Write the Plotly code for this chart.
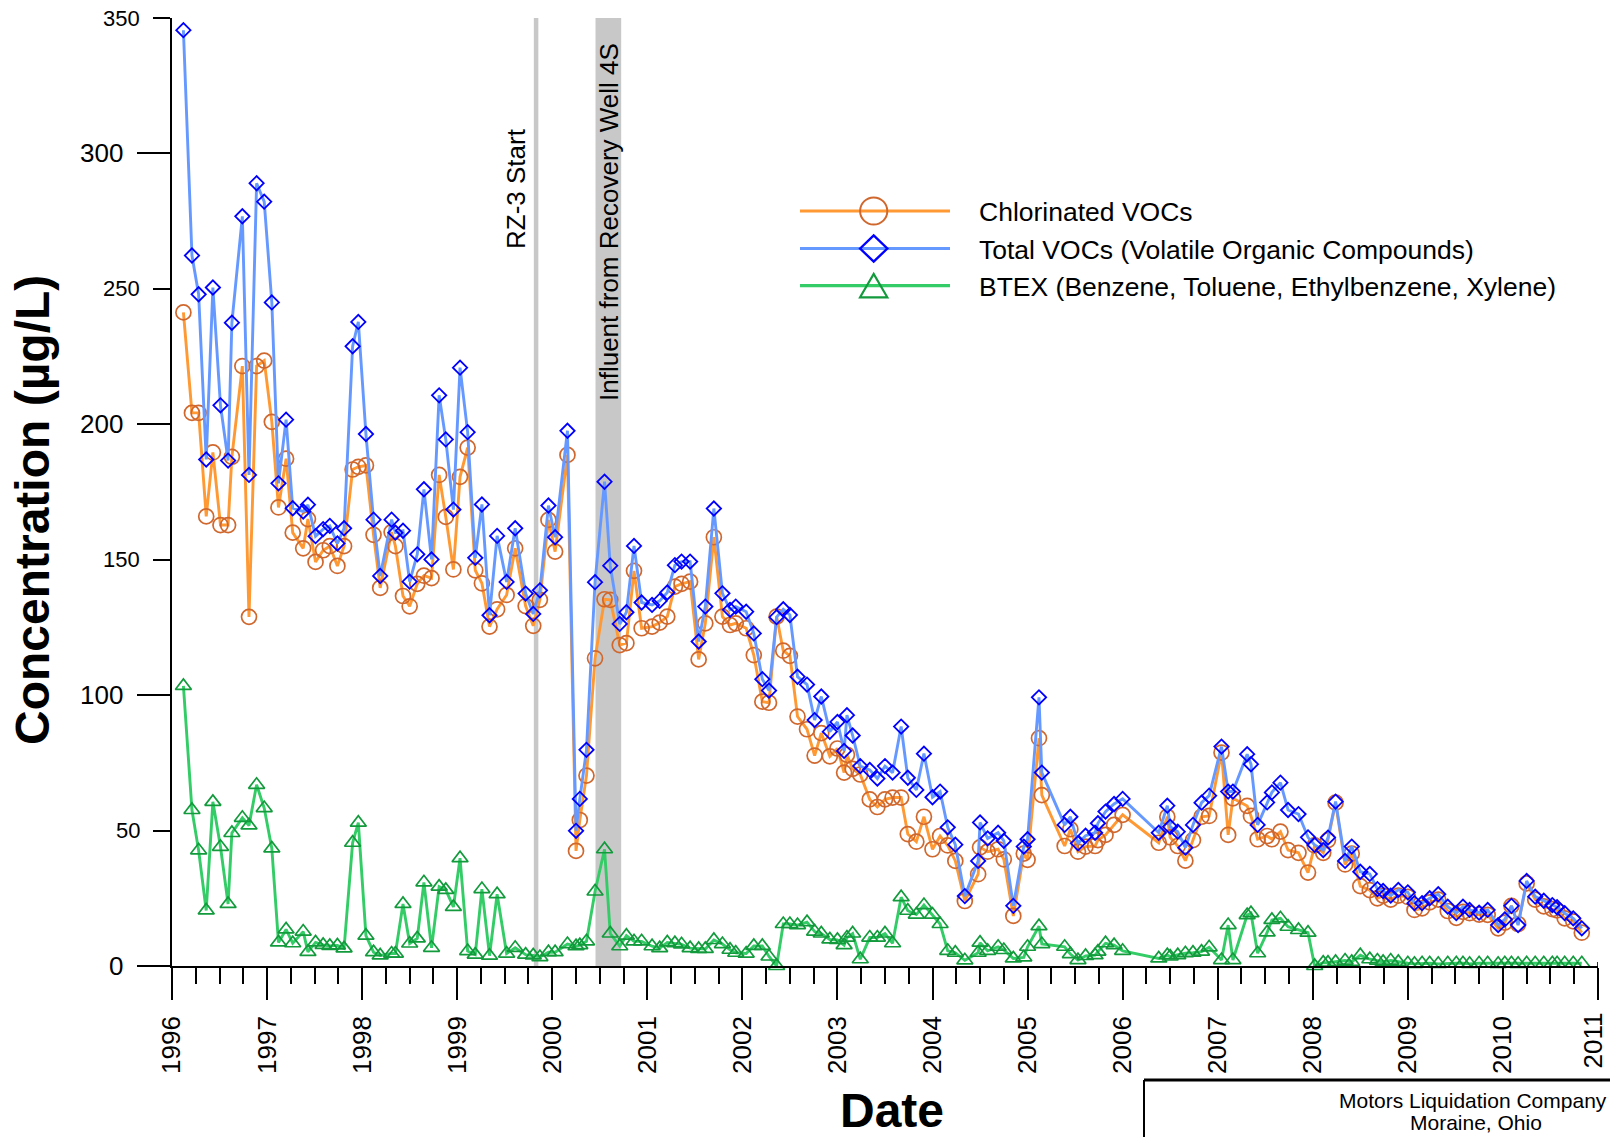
import plotly.graph_objects as go

# ---------------------------------------------------------------------------
# Sampling record (decimal years) and concentrations in µg/L
# ---------------------------------------------------------------------------
sample_year = [
    1996.12, 1996.21, 1996.28, 1996.36, 1996.43, 1996.51, 1996.59, 1996.63, 1996.74, 1996.81,
    1996.89, 1996.97, 1997.05, 1997.12, 1997.20, 1997.27, 1997.38, 1997.43, 1997.51, 1997.59,
    1997.66, 1997.74, 1997.81, 1997.90, 1997.96, 1998.04, 1998.12, 1998.19, 1998.31, 1998.35,
    1998.43, 1998.50, 1998.58, 1998.65, 1998.73, 1998.81, 1998.88, 1998.96, 1999.03, 1999.11,
    1999.19, 1999.26, 1999.34, 1999.42, 1999.52, 1999.61, 1999.72, 1999.80, 1999.87, 1999.96,
    2000.03, 2000.16, 2000.25, 2000.29, 2000.36, 2000.45, 2000.55, 2000.61, 2000.71, 2000.78,
    2000.86, 2000.94, 2001.05, 2001.13, 2001.21, 2001.29, 2001.36, 2001.45, 2001.54, 2001.61,
    2001.70, 2001.79, 2001.87, 2001.93, 2002.04, 2002.12, 2002.21, 2002.28, 2002.36, 2002.43,
    2002.50, 2002.58, 2002.68, 2002.76, 2002.83, 2002.92, 2003.00, 2003.07, 2003.10, 2003.16,
    2003.24, 2003.34, 2003.42, 2003.50, 2003.58, 2003.67, 2003.74, 2003.83, 2003.91, 2004.00,
    2004.08, 2004.16, 2004.24, 2004.34, 2004.48, 2004.50, 2004.58, 2004.69, 2004.75, 2004.85,
    2004.96, 2005.00, 2005.12, 2005.15, 2005.39, 2005.45, 2005.53, 2005.61, 2005.71, 2005.74,
    2005.82, 2005.91, 2006.00, 2006.38, 2006.47, 2006.50, 2006.58, 2006.66, 2006.74, 2006.83,
    2006.91, 2007.04, 2007.11, 2007.16, 2007.31, 2007.35, 2007.42, 2007.52, 2007.57, 2007.66,
    2007.74, 2007.85, 2007.95, 2008.02, 2008.11, 2008.16, 2008.24, 2008.34, 2008.41, 2008.50,
    2008.60, 2008.68, 2008.74, 2008.82, 2008.90, 2009.00, 2009.07, 2009.15, 2009.23, 2009.32,
    2009.42, 2009.51, 2009.58, 2009.65, 2009.75, 2009.84, 2009.95, 2010.02, 2010.09, 2010.16,
    2010.25, 2010.34, 2010.43, 2010.52, 2010.57, 2010.65, 2010.74, 2010.83,
]

total_vocs = [
    345.5, 262.3, 248.0, 187.0, 250.5, 207.0, 186.6, 237.5, 276.8, 181.3,
    289.0, 282.2, 245.0, 178.2, 201.7, 169.0, 167.8, 170.3, 158.7, 161.3,
    162.5, 156.0, 161.6, 228.8, 237.8, 196.4, 164.8, 144.0, 164.8, 160.0,
    160.7, 141.9, 152.0, 176.0, 150.1, 210.7, 194.4, 168.5, 220.9, 197.1,
    150.7, 170.4, 129.5, 158.8, 141.8, 161.6, 137.5, 130.0, 138.7, 170.0,
    158.3, 197.6, 49.9, 61.7, 79.8, 141.7, 178.8, 147.8, 126.3, 130.6,
    155.1, 134.2, 133.3, 134.8, 137.9, 148.0, 149.3, 149.3, 119.8, 132.7,
    168.9, 137.6, 131.5, 132.7, 130.8, 122.8, 105.9, 101.7, 128.8, 131.7,
    129.6, 106.8, 103.9, 90.8, 99.5, 86.5, 90.1, 79.4, 92.6, 85.1,
    73.8, 72.4, 69.2, 73.8, 71.4, 88.4, 69.5, 65.0, 78.4, 62.3,
    64.4, 51.2, 44.8, 25.8, 38.8, 53.0, 47.1, 49.2, 46.2, 22.2,
    44.1, 46.8, 99.2, 71.4, 52.1, 55.1, 45.3, 48.1, 49.2, 52.7,
    57.0, 59.8, 61.7, 49.2, 59.2, 51.4, 49.6, 43.7, 52.1, 60.3,
    62.9, 81.0, 64.4, 64.4, 78.2, 74.5, 52.1, 60.4, 64.1, 67.7,
    57.6, 56.1, 47.5, 44.7, 42.8, 47.4, 60.7, 38.8, 44.1, 34.8,
    34.0, 28.4, 27.7, 26.0, 28.1, 27.2, 23.2, 23.2, 25.0, 26.5,
    21.9, 19.5, 21.9, 20.7, 19.7, 20.7, 15.1, 17.2, 22.2, 15.1,
    31.4, 25.6, 24.1, 22.5, 21.7, 19.5, 17.6, 13.9,
]

chlorinated_vocs = [
    241.3, 204.2, 204.2, 166.0, 189.6, 162.8, 162.8, 188.0, 221.5, 128.9,
    221.5, 223.5, 200.9, 169.3, 187.3, 160.0, 154.2, 165.0, 149.2, 153.5,
    155.0, 147.7, 155.0, 183.3, 184.3, 184.8, 159.2, 139.6, 160.2, 155.0,
    136.6, 132.8, 141.1, 144.1, 143.2, 181.3, 165.8, 146.4, 180.6, 191.4,
    146.1, 141.3, 125.3, 131.7, 137.0, 154.2, 132.9, 125.6, 135.2, 164.7,
    153.0, 188.7, 42.5, 53.9, 70.3, 113.6, 135.4, 135.2, 118.5, 119.2,
    145.9, 124.7, 125.3, 126.8, 129.0, 140.1, 141.1, 141.9, 113.2, 126.5,
    158.3, 129.0, 125.9, 126.5, 124.7, 114.8, 97.6, 97.2, 129.0, 116.4,
    114.5, 92.1, 87.4, 77.7, 86.0, 77.4, 80.3, 71.4, 78.0, 72.8,
    70.7, 61.5, 58.7, 61.5, 62.2, 62.2, 48.7, 45.9, 55.1, 43.1,
    48.0, 44.5, 38.8, 24.0, 33.9, 43.8, 42.2, 43.1, 39.4, 18.5,
    41.5, 39.2, 84.1, 63.1, 44.3, 50.5, 42.2, 44.1, 44.3, 46.5,
    48.4, 52.1, 55.8, 45.5, 55.1, 47.5, 44.3, 38.9, 46.5, 55.1,
    55.4, 78.8, 48.4, 61.9, 59.1, 55.4, 46.8, 48.0, 46.8, 49.6,
    42.8, 41.8, 34.5, 44.5, 41.8, 46.5, 60.3, 37.5, 41.5, 29.5,
    28.0, 25.0, 26.0, 24.5, 26.0, 25.5, 20.7, 21.3, 23.5, 24.5,
    20.3, 17.8, 20.0, 19.5, 19.0, 18.9, 13.9, 16.0, 22.2, 15.5,
    30.5, 24.5, 22.0, 21.0, 20.5, 17.6, 16.5, 12.3,
]

btex = [
    103.4, 57.6, 42.7, 20.5, 60.6, 44.0, 22.9, 49.1, 54.7, 51.9,
    66.9, 58.3, 43.4, 8.7, 13.5, 8.4, 12.7, 5.2, 8.7, 7.8,
    7.4, 7.6, 6.5, 45.5, 52.9, 11.2, 5.1, 3.9, 4.6, 4.6,
    22.9, 8.3, 10.2, 30.9, 6.7, 29.3, 28.1, 21.8, 39.8, 5.5,
    4.2, 28.4, 3.8, 26.5, 4.6, 6.7, 4.2, 3.9, 3.3, 5.1,
    5.1, 8.1, 7.3, 7.7, 9.1, 27.5, 43.1, 12.0, 7.3, 11.2,
    9.1, 9.1, 7.3, 6.6, 8.7, 8.4, 8.0, 6.6, 6.3, 6.3,
    9.6, 8.1, 6.0, 4.9, 4.6, 7.4, 7.4, 3.5, 0.0, 15.5,
    15.5, 15.1, 16.2, 12.7, 12.0, 9.8, 9.6, 7.7, 10.5, 12.0,
    2.5, 10.5, 10.5, 12.0, 8.4, 25.4, 20.4, 19.0, 22.5, 19.0,
    15.5, 5.6, 4.9, 2.1, 4.9, 8.6, 5.6, 7.1, 5.9, 2.8,
    3.2, 7.1, 14.7, 8.1, 7.1, 4.4, 2.2, 3.7, 4.0, 5.3,
    8.4, 7.7, 5.6, 2.8, 4.0, 3.5, 4.0, 4.7, 4.9, 5.3,
    6.9, 2.2, 15.1, 2.2, 18.8, 19.5, 4.7, 12.4, 17.0, 17.6,
    14.5, 13.3, 12.3, 0.0, 1.2, 1.2, 1.5, 2.0, 1.5, 4.0,
    2.5, 2.0, 1.5, 2.0, 1.5, 1.0, 0.8, 1.0, 1.0, 0.8,
    1.0, 1.0, 1.0, 0.8, 1.0, 1.0, 0.8, 1.0, 1.0, 0.8,
    1.0, 1.0, 1.0, 1.0, 1.0, 1.0, 1.0, 1.0,
]

series_names = [
    "Chlorinated VOCs",
    "Total VOCs (Volatile Organic Compounds)",
    "BTEX (Benzene, Toluene, Ethylbenzene, Xylene)",
]

# Remediation milestones
rz3_start = 1999.83
influent_period = (2000.455, 2000.725)

year_ticks = list(range(1996, 2012))
conc_major_ticks = [0, 100, 200, 300]
conc_minor_ticks = [50, 150, 250, 350]

# ---------------------------------------------------------------------------
# Page geometry (pixels) and helpers to place paper-anchored items
# ---------------------------------------------------------------------------
W, H = 1610, 1137
ML, MR, MT, MB = 172, 12, 18, 171
PW, PH = W - ML - MR, H - MT - MB
FONT = "Liberation Sans, Arial, Helvetica, sans-serif"


def px(x):
    return (x - ML) / PW


def py(y):
    return (H - MB - y) / PH


ORANGE_LINE, ORANGE_MARK = "#FF9933", "#D0682E"
BLUE_LINE, BLUE_MARK = "#6699FF", "#0000FF"
GREEN_LINE, GREEN_MARK = "#33CC66", "#129A3C"
GREY = "#C8C8C8"

fig = go.Figure()

fig.add_trace(go.Scatter(
    x=sample_year, y=chlorinated_vocs, mode="lines+markers", name=series_names[0],
    line=dict(color=ORANGE_LINE, width=2.9),
    marker=dict(symbol="circle-open", size=15, color=ORANGE_MARK,
                line=dict(width=1.7, color=ORANGE_MARK)),
    cliponaxis=False, showlegend=False,
))
fig.add_trace(go.Scatter(
    x=sample_year, y=total_vocs, mode="lines+markers", name=series_names[1],
    line=dict(color=BLUE_LINE, width=2.9),
    marker=dict(symbol="diamond-open", size=11, color=BLUE_MARK,
                line=dict(width=1.8, color=BLUE_MARK)),
    cliponaxis=False, showlegend=False,
))
fig.add_trace(go.Scatter(
    x=sample_year, y=btex, mode="lines+markers", name=series_names[2],
    line=dict(color=GREEN_LINE, width=2.9),
    marker=dict(symbol="triangle-up-open", size=14, color=GREEN_MARK,
                line=dict(width=1.7, color=GREEN_MARK)),
    cliponaxis=False, showlegend=False,
))

shapes = [
    # recovery-well influent period
    dict(type="rect", xref="x", yref="paper", x0=influent_period[0], x1=influent_period[1],
         y0=0, y1=1, fillcolor=GREY, line=dict(width=0), layer="below"),
    # RZ-3 start marker
    dict(type="line", xref="x", yref="paper", x0=rz3_start, x1=rz3_start, y0=0, y1=1,
         line=dict(color=GREY, width=4.5), layer="below"),
    # short upturn closing the time axis on the right
    dict(type="line", xref="x", yref="paper", x0=2011, x1=2011, y0=0, y1=py(962),
         line=dict(color="black", width=1.5)),
    # site caption box
    dict(type="line", xref="paper", yref="paper", x0=px(1144), x1=px(1640),
         y0=py(1080), y1=py(1080), line=dict(color="black", width=3)),
    dict(type="line", xref="paper", yref="paper", x0=px(1144), x1=px(1144),
         y0=py(1080), y1=py(1160), line=dict(color="black", width=2)),
]

# hand-built key: sample line with its symbol in the middle
key_rows = [211.0, 248.5, 285.7]
key_x0, key_x1, key_mx = 800, 950, 873.7
key_lines = [ORANGE_LINE, BLUE_LINE, GREEN_LINE]
for yy, col in zip(key_rows, key_lines):
    shapes.append(dict(type="line", xref="paper", yref="paper", x0=px(key_x0), x1=px(key_x1),
                       y0=py(yy), y1=py(yy), line=dict(color=col, width=3.2)))

r = 13.6
shapes.append(dict(type="circle", xref="paper", yref="paper",
                   x0=px(key_mx - r), x1=px(key_mx + r), y0=py(key_rows[0] + r), y1=py(key_rows[0] - r),
                   line=dict(color=ORANGE_MARK, width=2), fillcolor="rgba(0,0,0,0)"))
cy = key_rows[1]
shapes.append(dict(type="path", xref="paper", yref="paper",
                   path=(f"M {px(key_mx - 13.6)},{py(cy)} L {px(key_mx)},{py(cy - 13.2)} "
                         f"L {px(key_mx + 13.6)},{py(cy)} L {px(key_mx)},{py(cy + 13.2)} Z"),
                   line=dict(color=BLUE_MARK, width=2.4), fillcolor="rgba(0,0,0,0)"))
shapes.append(dict(type="path", xref="paper", yref="paper",
                   path=(f"M {px(key_mx - 13.6)},{py(297.3)} L {px(key_mx)},{py(274.0)} "
                         f"L {px(key_mx + 13.6)},{py(297.3)} Z"),
                   line=dict(color=GREEN_MARK, width=2.2), fillcolor="rgba(0,0,0,0)"))

annotations = []
for yy, name in zip(key_rows, series_names):
    annotations.append(dict(xref="paper", yref="paper", x=px(977), y=py(yy + 1), text=name,
                            showarrow=False, xanchor="left", yanchor="middle",
                            font=dict(family=FONT, size=26.5, color="black")))

# concentration tick labels: hundreds larger, fifties smaller
for v in conc_major_ticks:
    annotations.append(dict(xref="paper", yref="y", x=px(125), y=v, text=str(v), showarrow=False,
                            xanchor="right", yanchor="middle",
                            font=dict(family=FONT, size=26, color="black")))
for v in conc_minor_ticks:
    annotations.append(dict(xref="paper", yref="y", x=px(142), y=v, text=str(v), showarrow=False,
                            xanchor="right", yanchor="middle",
                            font=dict(family=FONT, size=22, color="black")))

# last year label sits right at the page edge, so nudge it inward a little
annotations.append(dict(xref="x", yref="paper", x=year_ticks[-1], xshift=-5, y=py(1040.5),
                        text=str(year_ticks[-1]), textangle=-90, showarrow=False,
                        xanchor="center", yanchor="middle",
                        font=dict(family=FONT, size=26, color="black")))

# axis titles
annotations.append(dict(xref="paper", yref="paper", x=px(32), y=py(510),
                        text="<b>Concentration (µg/L)</b>", textangle=-90, showarrow=False,
                        xanchor="center", yanchor="middle",
                        font=dict(family=FONT, size=48, color="black")))
annotations.append(dict(xref="paper", yref="paper", x=px(892), y=py(1110), text="<b>Date</b>",
                        showarrow=False, xanchor="center", yanchor="middle",
                        font=dict(family=FONT, size=48, color="black")))

# milestone labels
annotations.append(dict(xref="paper", yref="paper", x=px(516), y=py(189), text="RZ-3 Start",
                        textangle=-90, showarrow=False, xanchor="center", yanchor="middle",
                        font=dict(family=FONT, size=26, color="black")))
annotations.append(dict(xref="paper", yref="paper", x=px(609), y=py(222),
                        text="Influent from Recovery Well 4S", textangle=-90, showarrow=False,
                        xanchor="center", yanchor="middle",
                        font=dict(family=FONT, size=26, color="black")))

# site caption
annotations.append(dict(xref="paper", yref="paper", x=px(1473), y=py(1100),
                        text="Motors Liquidation Company", showarrow=False,
                        xanchor="center", yanchor="middle",
                        font=dict(family=FONT, size=21, color="black")))
annotations.append(dict(xref="paper", yref="paper", x=px(1476), y=py(1122),
                        text="Moraine, Ohio", showarrow=False,
                        xanchor="center", yanchor="middle",
                        font=dict(family=FONT, size=21, color="black")))

fig.update_layout(
    width=W, height=H,
    margin=dict(l=ML, r=MR, t=MT, b=MB, autoexpand=False),
    paper_bgcolor="white", plot_bgcolor="white",
    font=dict(family=FONT, color="black"),
    showlegend=False,
    shapes=shapes,
    annotations=annotations,
    xaxis=dict(
        range=[1996, 2011.0005], showgrid=False, zeroline=False,
        showline=True, linecolor="black", linewidth=1.5,
        tickmode="array", tickvals=year_ticks,
        ticktext=[str(y) for y in year_ticks[:-1]] + [""],
        ticks="outside", ticklen=32, tickwidth=1.5, tickcolor="black",
        tickangle=-90, tickfont=dict(family=FONT, size=26, color="black"),
        ticklabelstandoff=6,
        minor=dict(dtick=0.25, tick0=1996, ticks="outside", ticklen=16,
                   tickwidth=1.5, tickcolor="black", showgrid=False),
    ),
    yaxis=dict(
        range=[0, 350], showgrid=False, zeroline=False,
        showline=True, linecolor="black", linewidth=1.5,
        tickmode="array", tickvals=conc_major_ticks, showticklabels=False,
        ticks="outside", ticklen=33, tickwidth=1.5, tickcolor="black",
        minor=dict(tickmode="array", tickvals=conc_minor_ticks, ticks="outside", ticklen=17,
                   tickwidth=1.5, tickcolor="black", showgrid=False),
    ),
)

fig.write_html("out.html")
